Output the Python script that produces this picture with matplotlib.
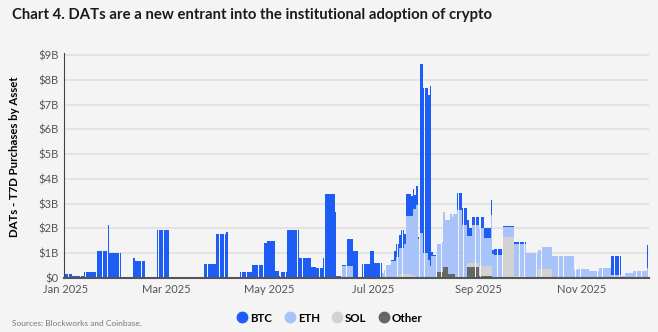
import numpy as np
import pandas as pd
import matplotlib
matplotlib.use('Agg')
import matplotlib.pyplot as plt
import matplotlib.dates as mdates
from matplotlib.lines import Line2D

# 7D rolling purchases ($B), stored as runs of equal daily values starting 2025-01-01
seg_days = [4, 7, 7, 1, 6, 1, 7, 1, 6, 1, 6, 7, 7, 14, 7, 7, 6, 1, 7, 7,
            7, 2, 5, 2, 1, 4, 7, 7, 3, 4, 1, 6, 1, 3, 3, 4, 3, 2, 5, 2,
            5, 1, 1, 3, 2, 1, 2, 1, 2, 1, 3, 1, 1, 1, 1, 1, 2, 3, 1, 1,
            1, 2, 3, 1, 1, 2, 1, 1, 1, 1, 1, 3, 3, 1, 2, 4, 1, 2, 4, 1,
            1, 5, 7, 7, 7, 2, 6, 7, 6, 2, 6, 1, 6, 7, 6, 2, 5, 8, 1]
btc = [.16, .07, .24, 0, 1.08, 2.12, 1.0, 0, .06, .79, .70, 0, 1.92, 0, .01, .55, 1.79, 1.84, 0, .25,
       .51, 1.42, 1.5, .28, .05, .23, 1.94, .80, .46, .39, .80, 3.39, 2.67, .05, .04, 1.06, 1.09, 0, .55, 1.09,
       .55, 0, 0, 0, .02, .39, .54, .5, .71, .4, .87, .77, .83, .58, .76, .07, 6.79, 6.65, 6.68, 7.28,
       .16, .02, 0, 0, 0, 0, 0, 0, 0, 0, 0, .7, .7, .65, .31, .33, 0, .47, .43, .6,
       .2, .23, .04, .07, 0, 0, 0, 0, 0, 0, 0, 0, 0, 0, .77, 0, 0, 0, .95]
eth = [0, 0, 0, 0, 0, 0, 0, 0, 0, 0, 0, 0, 0, 0, 0, 0, 0, 0, 0, 0,
       0, 0, 0, 0, 0, 0, 0, 0, 0, 0, 0, 0, 0, 0, .48, .50, 0, 0, 0, 0,
       .04, .2, .33, .52, .7, .7, .83, 1.06, 1.06, 1.2, 2.34, 2.4, 2.67, 2.7, 2.88, 1.53, 1.8, 1.0, .7, .46,
       .89, .89, 1.12, 1.2, 2.22, 1.91, 2.16, 2.42, 2.29, 2.42, 2.6, 2.74, 2.14, 1.09, 1.09, 1.54, 1.51, 1.52, 1.12, 2.06,
       .93, .91, .37, 1.27, 1.0, .78, .91, .9, .89, .32, .35, .38, .28, .42, .12, .1, .19, .28, .4]
sol = [0] * 40 + [0, 0, 0, 0, 0, 0, 0, .16, .16, .16, .16, .12, .1, .08, .06, .04, .03, .02, .02, .02] + \
      [0, 0, 0, 0, 0, 0, 0, 0, 0, 0, 0, 0, 0, .14, .14, .14, .38, .38, .38, .38,
       0, 0, 1.65, .1, .02, .35, .35, 0, 0, 0, 0, 0, 0, 0, 0, 0, 0, 0, 0]
other = [0, 0, 0, .02, 0, 0, 0, .02, 0, 0, 0, .03, 0, .03, .01, 0, 0, 0, .03, 0,
         0, 0, 0, 0, .02, 0, 0, 0, 0, 0, 0, 0, 0, .02, 0, 0, 0, .02, 0, 0,
         0, 0, 0, 0, 0, 0, 0, 0, 0, 0, 0, 0, 0, 0, 0, 0, 0, 0, 0, 0,
         0, 0, .25, .25, .43, .43, .18, .18, .18, .18, 0, 0, 0, .46, .46, .46, .1, .1, .1, .1,
         .02, .02, .02, 0, 0, 0, 0, 0, 0, 0, 0, 0, 0, 0, 0, 0, 0, 0, 0]

n = np.repeat(np.arange(len(seg_days)), seg_days)
btc_d = np.array(btc)[n]
eth_d = np.array(eth)[n]
sol_d = np.array(sol)[n]
oth_d = np.array(other)[n]
dates = pd.date_range('2025-01-01', periods=len(n), freq='D')

plt.rcParams['font.family'] = ['Lato', 'DejaVu Sans']

bg = '#f4f4f4'
c_btc, c_eth, c_sol, c_oth = '#1d5cf5', '#a8c2fa', '#d2d2d2', '#666666'

fig = plt.figure(figsize=(6.58, 3.32), dpi=100, facecolor=bg)
ax = fig.add_axes([64/658, 54/332, 585/658, 225/332], facecolor=bg)

w = 0.9
ax.bar(dates, oth_d, width=w, color=c_oth, linewidth=0, zorder=3)
ax.bar(dates, sol_d, width=w, bottom=oth_d, color=c_sol, linewidth=0, zorder=3)
ax.bar(dates, eth_d, width=w, bottom=oth_d + sol_d, color=c_eth, linewidth=0, zorder=3)
ax.bar(dates, btc_d, width=w, bottom=oth_d + sol_d + eth_d, color=c_btc, linewidth=0, zorder=3)

ax.set_ylim(0, 9.08)
ax.set_yticks(range(0, 10))
ax.set_yticklabels(['$0'] + [f'${i}B' for i in range(1, 10)])
ax.set_xlim(pd.Timestamp('2025-01-01') - pd.Timedelta(days=1.2), pd.Timestamp('2025-01-01') + pd.Timedelta(days=343.9))
ax.xaxis.set_major_locator(mdates.MonthLocator(bymonth=[1, 3, 5, 7, 9, 11]))
ax.xaxis.set_major_formatter(mdates.DateFormatter('%b %Y'))
ax.grid(axis='y', color='#e0e0e0', linewidth=1.2, zorder=0)
ax.tick_params(length=0, labelsize=8, labelcolor='#555555', pad=4)
for s in ['top', 'right']:
    ax.spines[s].set_visible(False)
ax.spines['left'].set_color('#444444')
ax.spines['left'].set_linewidth(0.8)
ax.spines['bottom'].set_color('#555555')
ax.spines['bottom'].set_linewidth(1.5)
ax.spines['bottom'].set_zorder(4)

ax.set_ylabel('DATs - T7D Purchases by Asset', fontsize=8.2, fontweight='bold')
ax.yaxis.set_label_coords(-44/585, 0.54)

fig.text(12/658, 1 - 15/332, 'Chart 4. DATs are a new entrant into the institutional adoption of crypto',
         fontsize=10.7, fontweight='bold', color='#1a1a1a', va='center', ha='left')
fig.text(12/658, 1 - 323/332, 'Sources: Blockworks and Coinbase.', fontsize=6, color='#777777', va='center')

handles = [Line2D([], [], marker='o', linestyle='', markersize=7.5, color=c) for c in [c_btc, c_eth, c_sol, c_oth]]
leg = fig.legend(handles, ['BTC', 'ETH', 'SOL', 'Other'], loc='center', bbox_to_anchor=(329/658, 1 - 318/332),
                 ncol=4, frameon=False, handletextpad=0.1, columnspacing=0.9, handlelength=1.2,
                 prop={'weight': 'bold', 'size': 8.3})

fig.savefig('out.png', dpi=100, facecolor=bg)
